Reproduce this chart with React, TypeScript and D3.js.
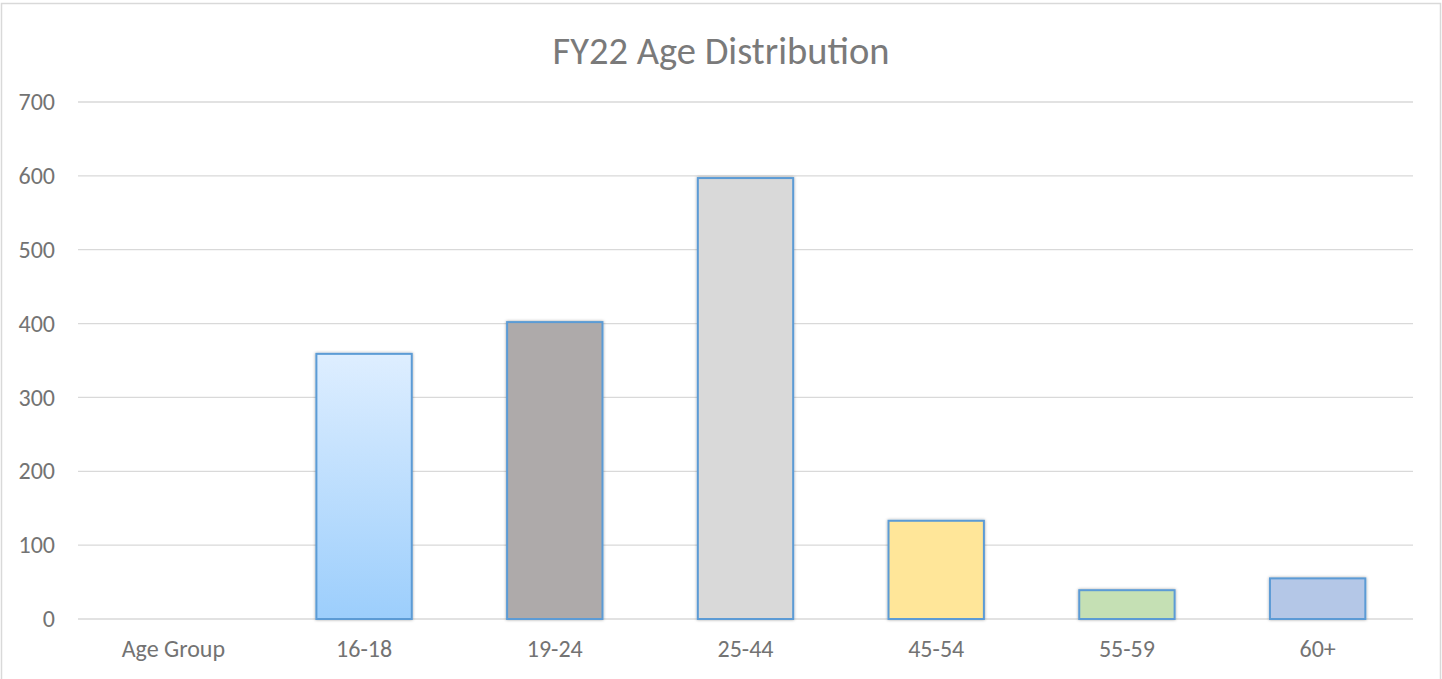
import React, { useEffect, useRef } from 'react';
import * as d3 from 'd3';

const categories = ['Age Group', '16-18', '19-24', '25-44', '45-54', '55-59', '60+'];
const counts = [null, 359, 402, 597, 133, 39, 55];
const barColors = ['none', 'url(#blueGrad)', '#aeaaaa', '#d9d9d9', '#ffe699', '#c5e0b4', '#b4c7e7'];
const yTicks = [0, 100, 200, 300, 400, 500, 600, 700];

const width = 1442;
const height = 679;

const App = () => {
	const ref = useRef<SVGSVGElement | null>(null);

	useEffect(() => {
		if (!ref.current) return;
		const svg = d3.select(ref.current);
		svg.selectAll('*').remove();

		const margins = { t: 102, b: 60, l: 78, r: 29 };
		const plotwidth = width - margins.l - margins.r;
		const plotheight = 619 - margins.t;
		const font = 'Carlito, "Open Sans", "Liberation Sans", sans-serif';

		const defs = svg.append('defs');
		const grad = defs
			.append('linearGradient')
			.attr('id', 'blueGrad')
			.attr('x1', 0)
			.attr('y1', 0)
			.attr('x2', 0)
			.attr('y2', 1);
		grad.append('stop').attr('offset', '0%').attr('stop-color', '#deeeff');
		grad.append('stop').attr('offset', '100%').attr('stop-color', '#9ccefc');
		defs
			.append('filter')
			.attr('id', 'shadow')
			.attr('x', '-20%')
			.attr('y', '-20%')
			.attr('width', '140%')
			.attr('height', '140%')
			.append('feDropShadow')
			.attr('dx', 0)
			.attr('dy', 0)
			.attr('stdDeviation', 1.6)
			.attr('flood-color', '#000')
			.attr('flood-opacity', 0.35);

		// chart frame
		svg.append('rect')
			.attr('x', 1.5)
			.attr('y', 3.5)
			.attr('width', width - 3)
			.attr('height', height + 10)
			.attr('fill', 'white')
			.attr('stroke', '#d9d9d9')
			.attr('stroke-width', 1.5);

		const xScale = d3.scaleBand().domain(categories).range([0, plotwidth]).paddingInner(0.5).paddingOuter(0.25);
		const yScale = d3.scaleLinear().domain([0, 700]).range([plotheight, 0]);

		const plotg = svg.append('g').attr('transform', `translate(${margins.l}, ${margins.t})`);

		plotg.selectAll('.grid')
			.data(yTicks)
			.join('line')
			.attr('class', 'grid')
			.attr('x1', 0)
			.attr('x2', plotwidth)
			.attr('y1', d => yScale(d))
			.attr('y2', d => yScale(d))
			.attr('stroke', '#d9d9d9')
			.attr('stroke-width', 1.3);

		plotg.selectAll('.ylabel')
			.data(yTicks)
			.join('text')
			.attr('class', 'ylabel')
			.attr('x', -23)
			.attr('y', d => yScale(d))
			.attr('dy', '0.34em')
			.attr('text-anchor', 'end')
			.attr('font-family', font)
			.attr('font-size', 24)
			.attr('fill', '#737373')
			.text(d => d);

		const data = categories.map((c, i) => ({ c, v: counts[i], fill: barColors[i] })).filter(d => d.v != null);

		plotg.selectAll('.bar')
			.data(data)
			.join('rect')
			.attr('class', 'bar')
			.attr('x', d => xScale(d.c)!)
			.attr('y', d => yScale(d.v as number))
			.attr('width', xScale.bandwidth())
			.attr('height', d => plotheight - yScale(d.v as number))
			.attr('fill', d => d.fill)
			.attr('stroke', '#5b9bd5')
			.attr('stroke-width', 2)
			.attr('filter', 'url(#shadow)');

		plotg.selectAll('.xlabel')
			.data(categories)
			.join('text')
			.attr('class', 'xlabel')
			.attr('x', d => xScale(d)! + xScale.bandwidth() / 2)
			.attr('y', plotheight + 38)
			.attr('text-anchor', 'middle')
			.attr('font-family', font)
			.attr('font-size', 24)
			.attr('fill', '#737373')
			.text(d => d);

		svg.append('text')
			.attr('x', 721)
			.attr('y', 64)
			.attr('text-anchor', 'middle')
			.attr('font-family', font)
			.attr('font-size', 38.5)
			.attr('fill', '#7a7a7a')
			.text('FY22 Age Distribution');
	}, []);

	return (
		<svg
			ref={ref}
			width={width}
			height={height}
			style={{ position: 'absolute', top: 0, left: 0, display: 'block' }}
		/>
	);
};

export default App;
